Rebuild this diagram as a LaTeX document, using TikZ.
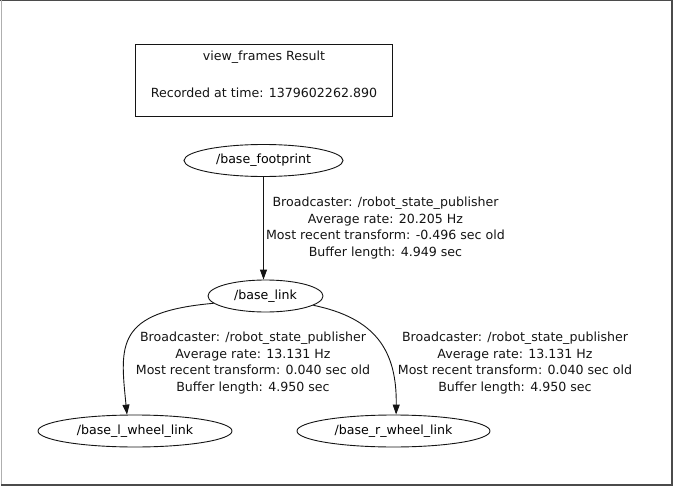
\documentclass[tikz,border=0pt]{standalone}
\usepackage{fontspec}
\setmainfont{DejaVu Sans}
\usetikzlibrary{arrows.meta, shapes.geometric}
\definecolor{framedark}{RGB}{75,75,75}
\definecolor{framelight}{RGB}{175,175,175}
\definecolor{inkgray}{RGB}{20,20,20}

\begin{document}
\begin{tikzpicture}[x=1pt, y=-1pt, >={Triangle[length=10pt, width=7pt]},
  tfframe/.style={ellipse, draw=inkgray, line width=0.9pt, inner sep=0pt,
    minimum height=32pt, font=\fontsize{12.6}{16.7}\selectfont},
  tflabel/.style={align=center, inner sep=0pt, text=inkgray,
    font=\fontsize{12.6}{16.7}\selectfont},
  tfedge/.style={->, draw=inkgray, line width=0.9pt}]
  \useasboundingbox (0,0) rectangle (675,487);

  % Page frame
  \draw[framedark, line width=1pt] (0,0.5) -- (673,0.5);
  \draw[framelight, line width=1.2pt] (1.5,0) -- (1.5,486);
  \draw[framedark, line width=2pt] (672,0) -- (672,486);
  \draw[framedark, line width=2pt] (1,485) -- (673,485);

  % Result box
  \node[draw=inkgray, line width=1.6pt, minimum width=257pt, minimum height=72pt,
        inner sep=0pt] (title) at (264,80.5) {};
  \node[tflabel] (titletop) at (264,57) {view\_frames Result};
  \node[tflabel] (titletime) at (264,93) {Recorded at time: 1379602262.890};

  % Frames
  \node[tfframe, minimum width=159pt] (footprint) at (263.5,160.5) {/base\_footprint};
  \node[tfframe, minimum width=115pt] (baselink) at (265.5,296) {/base\_link};
  \node[tfframe, minimum width=194pt] (lwheel) at (135,431) {/base\_l\_wheel\_link};
  \node[tfframe, minimum width=193pt] (rwheel) at (393.5,431) {/base\_r\_wheel\_link};

  % Transforms
  \draw[tfedge] (footprint.south) -- (footprint.south |- baselink.north);
  \draw[tfedge] (baselink.188) .. controls (115,312) and (120,345) .. (lwheel.116);
  \draw[tfedge] (baselink.349) .. controls (375,318) and (397,350) .. (rwheel.81);

  % Labels
  \node[tflabel] (fplabel) at (385.5,228) {Broadcaster: /robot\_state\_publisher\\
    Average rate: 20.205 Hz\\ Most recent transform: -0.496 sec old\\
    Buffer length: 4.949 sec};
  \node[tflabel] (lwlabel) at (253,363) {Broadcaster: /robot\_state\_publisher\\
    Average rate: 13.131 Hz\\ Most recent transform: 0.040 sec old\\
    Buffer length: 4.950 sec};
  \node[tflabel] (rwlabel) at (515,363) {Broadcaster: /robot\_state\_publisher\\
    Average rate: 13.131 Hz\\ Most recent transform: 0.040 sec old\\
    Buffer length: 4.950 sec};
\end{tikzpicture}
\end{document}
